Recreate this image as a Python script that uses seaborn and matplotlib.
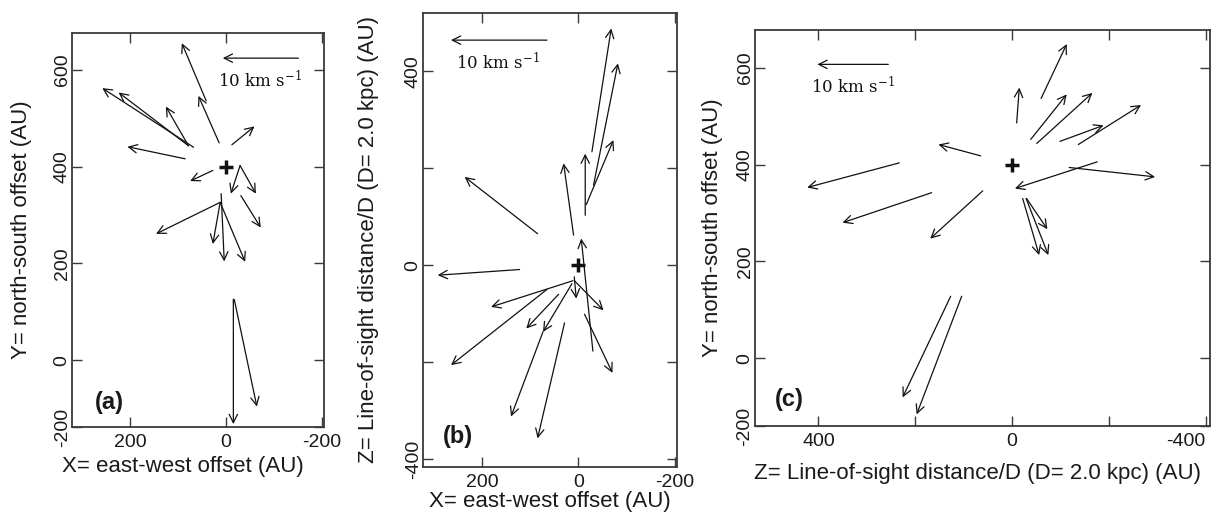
import matplotlib
matplotlib.use("Agg")
import matplotlib.pyplot as plt
import seaborn as sns
import pandas as pd

# ---------------- data (AU); each arrow: tail (x0, y0) -> head (x1, y1) ----------------
# Panel (a): X = east-west offset, Y = north-south offset
a_x0 = [41.7, 14.6, 68.0, 78.5, 78.5, 85.4, -11.9, 27.7, -29.0, -29.0, -30.6, 12.5, 12.5, 10.4, 12.5, -15.0, -17.0]
a_y0 = [536, 449, 440, 443, 443, 416, 445, 392, 402, 402, 340, 326, 326, 344, 326, 126, 125]
a_x1 = [92.3, 57.7, 258, 224, 125.6, 205.6, -59, 75, -9.8, -62, -72, 146, 27.7, 4, -39.6, -15, -64]
a_y1 = [655, 546, 562, 553, 524, 441, 483, 370, 344, 344, 274, 261, 240, 204, 203, -132, -96]

# Panel (b): X = east-west offset, Z = line-of-sight distance
b_x0 = [-28.4, -31.7, -16.6, -14.5, 9.7, 84.4, -30.4, 121.7, 11, 65, 40.8, 13, 73, 28.4, 8.3, 8, -13]
b_y0 = [234, 165, 125, 103, 62, 65, -177, -8.9, -32, -50, -60, -38, -137, -119, -24, -32, -101]
b_x1 = [-68.4, -82.3, -73, -14.5, 30.4, 235.6, -6.2, 291.6, 181, 264, 107.8, 73, 139.5, 84.4, 4.1, -52.4, -71]
b_y1 = [488, 416, 258, 230, 210, 182, 55, -20.6, -86, -206, -130.5, -137.5, -312, -357, -69, -93, -222]

# Panel (c): Z = line-of-sight distance, Y = north-south offset
c_x0 = [-60, -9.6, -38.6, -51, -99, -137, -118, -176, 64.7, 233, 166, 60.5, -30, -22, -29, 126.7, 104]
c_y0 = [536.6, 486, 452, 443.6, 448, 441.5, 394, 405.6, 418, 403.5, 342, 345.7, 330, 330, 330, 128, 128]
c_x1 = [-113, -15, -113, -166, -189, -266.5, -295.5, -6, 152, 423, 350, 169, -73, -56, -75, 226, 197]
c_y1 = [649, 559, 545, 548, 481, 523, 374.6, 350.6, 441.5, 352.7, 280, 247, 266.5, 213, 213, -81, -116]

# Scale arrows (10 km/s) and their labels
scale_a = dict(x0=-150.6, x1=7, y=624, tx=17, ty=577)
scale_b = dict(x0=65, x1=264, y=464, tx=253, ty=417)
scale_c = dict(x0=255.6, x1=402, y=607, tx=415, ty=561)

# Reference star positions (the "+")
center_a = (0, 400)
center_b = (0, 0)
center_c = (0, 400)

panel_labels = ["(a)", "(b)", "(c)"]
xlabel_ew = "X= east-west offset (AU)"
ylabel_ns = "Y= north-south offset (AU)"
label_los = "Z= Line-of-sight distance/D (D= 2.0 kpc) (AU)"
scale_text = r"10 km s$^{-1}$"

# ---------------- style ----------------
sns.set_theme(style="ticks")
plt.rcParams["font.family"] = ["Liberation Sans", "DejaVu Sans"]
plt.rcParams["axes.unicode_minus"] = False
plt.rcParams["mathtext.fontset"] = "dejavuserif"

FRAME = "#3a3a3a"
INK = "#111111"
TXT = "#1a1a1a"

fig = plt.figure(figsize=(12.23, 5.19), dpi=100)
ax_a = fig.add_axes([0.0589, 0.1773, 0.2061, 0.7592])
ax_b = fig.add_axes([0.3459, 0.1002, 0.2077, 0.8748])
ax_c = fig.add_axes([0.6173, 0.1792, 0.3721, 0.7630])

ARROW = "->,head_length=0.6,head_width=0.3"


def draw_panel(ax, x0, y0, x1, y1, center, scale, label, label_pos):
    for xa, ya, xb, yb in zip(x0, y0, x1, y1):
        ax.annotate("", xy=(xb, yb), xytext=(xa, ya),
                    arrowprops=dict(arrowstyle=ARROW, color=INK, lw=0.9,
                                    shrinkA=0, shrinkB=0, mutation_scale=10))
    # scale arrow
    ax.annotate("", xy=(scale["x1"], scale["y"]), xytext=(scale["x0"], scale["y"]),
                arrowprops=dict(arrowstyle=ARROW, color=INK, lw=0.9,
                                shrinkA=0, shrinkB=0, mutation_scale=10))
    ax.text(scale["tx"], scale["ty"], scale_text, ha="left", va="center",
            fontsize=12, color=INK, family="DejaVu Serif")
    cdf = pd.DataFrame({"x": [center[0]], "y": [center[1]]})
    sns.scatterplot(data=cdf, x="x", y="y", marker="+", s=100, linewidth=2.5,
                    color=INK, ax=ax, legend=False, zorder=5)
    ax.text(label_pos[0], label_pos[1], label, transform=ax.transAxes,
            ha="left", va="center", fontsize=17, fontweight="bold", color=TXT)
    for s in ax.spines.values():
        s.set_color(FRAME)
        s.set_linewidth(1.3)
        s.set_visible(True)
    ax.tick_params(direction="in", length=7, width=1.0, color=FRAME,
                   top=True, right=True, labelsize=14, labelcolor=TXT)
    ax.tick_params(axis="y", labelrotation=90, pad=1)
    ax.tick_params(axis="x", pad=5)
    ax.set_facecolor("white")


# Panel (a)
draw_panel(ax_a, a_x0, a_y0, a_x1, a_y1, center_a, scale_a, panel_labels[0], (0.09, 0.061))
ax_a.set_xlim(321, -204)
ax_a.set_ylim(-138, 676)
ax_a.set_xticks([200, 0, -200], ["200", "0", "-200"])
ax_a.set_yticks([-138, 0, 200, 400, 600], ["-200", "0", "200", "400", "600"])
ax_a.set_xlabel(xlabel_ew, fontsize=16, color=TXT)
ax_a.set_ylabel(ylabel_ns, fontsize=16, color=TXT)
ax_a.xaxis.set_label_coords(0.438, -0.074)
ax_a.yaxis.set_label_coords(-0.16, 0.5)

# Panel (b)
draw_panel(ax_b, b_x0, b_y0, b_x1, b_y1, center_b, scale_b, panel_labels[1], (0.08, 0.067))
ax_b.set_xlim(322, -205)
ax_b.set_ylim(-416, 520)
ax_b.set_xticks([200, 0, -200], ["200", "0", "-200"])
ax_b.set_yticks([-400, -200, 0, 200, 400], ["-400", "", "0", "", "400"])
ax_b.set_xlabel(xlabel_ew, fontsize=16, color=TXT)
ax_b.set_ylabel(label_los, fontsize=16, color=TXT)
ax_b.xaxis.set_label_coords(0.5, -0.053)
ax_b.yaxis.set_label_coords(-0.175, 0.5)

# Panel (c)
draw_panel(ax_c, c_x0, c_y0, c_x1, c_y1, center_c, scale_c, panel_labels[2], (0.044, 0.068))
ax_c.set_xlim(531, -409)
ax_c.set_ylim(-140, 678)
ax_c.set_xticks([400, 200, 0, -200, -400], ["400", "", "0", "", "-400"])
ax_c.set_yticks([-140, 0, 200, 400, 600], ["-200", "0", "200", "400", "600"])
ax_c.set_xlabel(label_los, fontsize=16, color=TXT)
ax_c.set_ylabel(ylabel_ns, fontsize=16, color=TXT)
ax_c.xaxis.set_label_coords(0.49, -0.093)
ax_c.yaxis.set_label_coords(-0.07, 0.5)

for ax in (ax_a, ax_b, ax_c):
    for t in ax.get_yticklabels():
        t.set_va("center")
xl = ax_c.get_xticklabels()
xl[-1].set_ha("right")
xl[-1].set_x(-409)

fig.savefig("out.png", dpi=100, facecolor="white")
